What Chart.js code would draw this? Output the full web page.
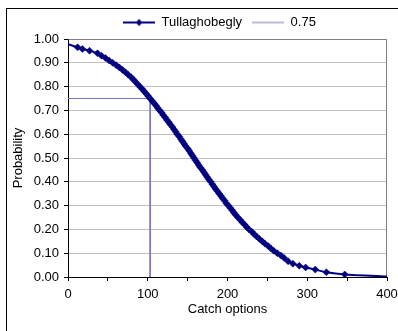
<!DOCTYPE html>
<html>
<head>
<meta charset="utf-8">
<script src="https://cdn.jsdelivr.net/npm/chart.js@4.4.1/dist/chart.umd.min.js"></script>
<style>
  html, body { margin: 0; padding: 0; background: #fff; }
</style>
</head>
<body>
<canvas id="chart" width="398" height="331"></canvas>
<script>
// series names
const seriesName = 'Tullaghobegly';
const refName = '0.75';

// catch option (x) for each point of the probability curve
const catchOptions = [0, 12, 18, 27, 37, 42, 47, 51.5, 56, 60.5, 64.5, 68.5, 72, 75.5, 79, 82, 84.5, 87.5, 90, 93,
    95.5, 98, 100.5, 103, 105.5, 108, 110.5, 112.5, 115, 117.5, 119.5, 122, 124, 126.5, 128.5, 131, 133, 135, 137, 139.5,
    141.5, 143.5, 145.5, 147.5, 150, 152, 154, 156, 158, 160, 162, 164, 166, 168.5, 170.5, 172.5, 174.5, 176.5, 179, 181,
    183, 185, 187.5, 189.5, 192, 194, 196.5, 198.5, 201, 203.5, 206, 208, 210.5, 213, 216, 218.5, 221.5, 224, 227, 230.5,
    233.5, 236.5, 240, 243.5, 247, 251, 254.5, 258, 262.5, 267, 271, 276, 282, 290, 298, 310, 324, 347, 400];

const probability = [0.978, 0.965, 0.958, 0.951, 0.94, 0.93, 0.92, 0.91, 0.90, 0.89, 0.88, 0.87, 0.86, 0.85, 0.84, 0.83, 0.82, 0.81, 0.80, 0.79,
    0.78, 0.77, 0.76, 0.75, 0.74, 0.73, 0.72, 0.71, 0.70, 0.69, 0.68, 0.67, 0.66, 0.65, 0.64, 0.63, 0.62, 0.61, 0.60, 0.59,
    0.58, 0.57, 0.56, 0.55, 0.54, 0.53, 0.52, 0.51, 0.50, 0.49, 0.48, 0.47, 0.46, 0.45, 0.44, 0.43, 0.42, 0.41, 0.40, 0.39,
    0.38, 0.37, 0.36, 0.35, 0.34, 0.33, 0.32, 0.31, 0.30, 0.29, 0.28, 0.27, 0.26, 0.25, 0.24, 0.23, 0.22, 0.21, 0.20, 0.19,
    0.18, 0.17, 0.16, 0.15, 0.14, 0.13, 0.12, 0.11, 0.10, 0.09, 0.08, 0.066, 0.056, 0.047, 0.04, 0.031, 0.02, 0.011, 0.002];

// the 0.75 reference: across to the curve, then down
const refX = [0, 103, 103];
const refY = [0.75, 0.75, 0];

const NAVY = '#000080';
const REF = '#7777bb';
const FONT = { family: 'Arial, "Liberation Sans", sans-serif', size: 13, lineHeight: 1 };
const LEGEND_DX = 22;

// little line(+marker) pictures for the legend
function swatch(color, width, marker) {
    const c = document.createElement('canvas');
    c.width = 32; c.height = 10;
    const g = c.getContext('2d');
    g.strokeStyle = color;
    g.lineWidth = width;
    g.beginPath(); g.moveTo(0, 5); g.lineTo(32, 5); g.stroke();
    if (marker) {
        g.fillStyle = color;
        g.beginPath();
        g.moveTo(16, 1.5); g.lineTo(19.5, 5); g.lineTo(16, 8.5); g.lineTo(12.5, 5);
        g.closePath(); g.fill();
    }
    return c;
}

const framePlugin = {
    id: 'frame',
    beforeDraw(chart) {
        const ctx = chart.ctx;
        ctx.save();
        ctx.strokeStyle = '#000';
        ctx.lineWidth = 1;
        ctx.strokeRect(6.5, 8.5, 420, 420);
        ctx.restore();
    },
    beforeDatasetsDraw(chart) {
        const {ctx, chartArea: a} = chart;
        ctx.save();
        ctx.strokeStyle = '#808080';
        ctx.lineWidth = 1;
        ctx.beginPath();
        ctx.moveTo(Math.round(a.left) + 0.5, Math.round(a.top) + 0.5);
        ctx.lineTo(Math.round(a.right) - 0.5, Math.round(a.top) + 0.5);
        ctx.lineTo(Math.round(a.right) - 0.5, Math.round(a.bottom));
        ctx.stroke();
        ctx.restore();
    }
};

const legendShift = {
    id: 'legendShift',
    afterLayout(chart) {
        chart.legend.left += LEGEND_DX;
        chart.legend.right += LEGEND_DX;
    }
};

const last = catchOptions.length - 1;

new Chart(document.getElementById('chart'), {
    type: 'scatter',
    data: {
        datasets: [
            {
                label: seriesName,
                data: catchOptions.map((x, i) => ({x, y: probability[i]})),
                showLine: true,
                borderColor: NAVY,
                backgroundColor: NAVY,
                borderWidth: 2,
                tension: 0.2,
                pointStyle: 'rectRot',
                pointRadius: catchOptions.map((_, i) => (i === 0 || i === last) ? 0 : 3.5),
                pointBorderWidth: 0.5,
                pointBorderColor: NAVY,
                pointBackgroundColor: NAVY
            },
            {
                label: refName,
                data: refX.map((x, i) => ({x, y: refY[i]})),
                showLine: true,
                borderColor: REF,
                borderWidth: 1,
                pointRadius: 0,
                tension: 0
            }
        ]
    },
    options: {
        responsive: false,
        animation: false,
        layout: { padding: { top: 6, left: 8, right: 11, bottom: 15 } },
        plugins: {
            tooltip: { enabled: false },
            legend: {
                position: 'top',
                labels: {
                    usePointStyle: true,
                    pointStyleWidth: 32,
                    padding: 10,
                    color: '#000',
                    font: FONT,
                    generateLabels: () => [
                        { text: seriesName, pointStyle: swatch(NAVY, 2, true), datasetIndex: 0, hidden: false, lineWidth: 0 },
                        { text: refName, pointStyle: swatch(REF, 1, false), datasetIndex: 1, hidden: false, lineWidth: 0 }
                    ]
                }
            }
        },
        scales: {
            x: {
                type: 'linear',
                min: 0, max: 400,
                afterFit(s) { s.height = 39; s.paddingLeft = 0; s.paddingRight = 0; },
                ticks: {
                    stepSize: 50, autoSkip: false, maxRotation: 0,
                    padding: 7, color: '#000', font: FONT,
                    callback: v => v % 100 === 0 ? String(v) : ''
                },
                grid: { drawOnChartArea: false, tickLength: 4, tickColor: '#000' },
                border: { color: '#000', width: 1 },
                title: { display: true, text: 'Catch options', color: '#000', font: FONT, padding: { top: 1, bottom: 0 } }
            },
            y: {
                min: 0, max: 1,
                afterFit(s) { s.width = 60; },
                ticks: {
                    stepSize: 0.1, padding: 5, color: '#000', font: FONT,
                    callback: v => v.toFixed(2)
                },
                grid: { color: '#c0c0c0', tickLength: 4, tickColor: '#000' },
                border: { color: '#000', width: 1 },
                title: { display: true, text: 'Probability', color: '#000', font: FONT, padding: { top: 4, bottom: 0 } }
            }
        }
    },
    plugins: [framePlugin, legendShift]
});
</script>
</body>
</html>
